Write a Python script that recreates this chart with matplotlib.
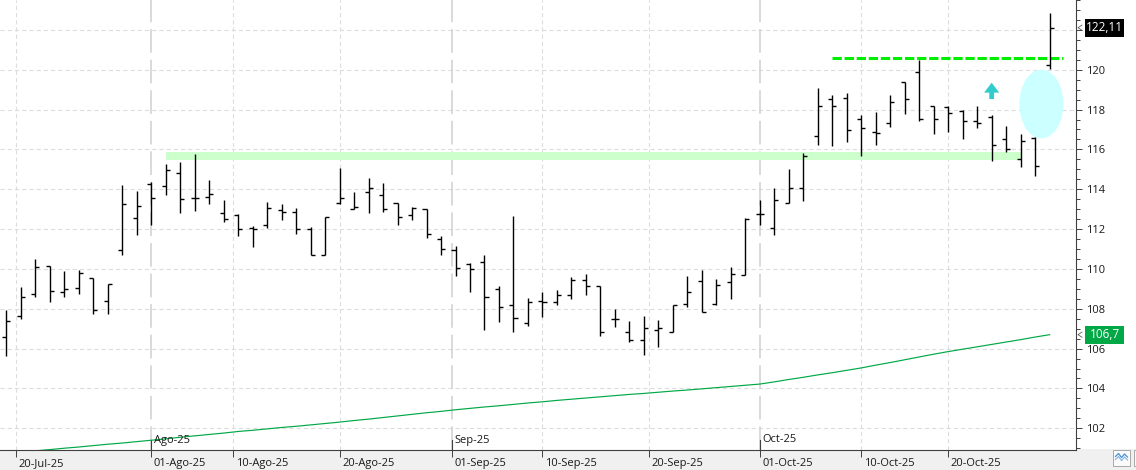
import numpy as np
import pandas as pd
import matplotlib
matplotlib.use("Agg")
import matplotlib.pyplot as plt
from matplotlib.patches import Ellipse, Rectangle, Polygon
from matplotlib.lines import Line2D
from matplotlib.ticker import MultipleLocator, FixedLocator
import matplotlib.transforms as mtrans

plt.rcParams['font.family'] = ['Open Sans', 'DejaVu Sans']
plt.rcParams['lines.scale_dashes'] = False

# ---------------- data ----------------
trade_dates = [d for d in pd.bdate_range('2025-07-18', '2025-10-29') if d != pd.Timestamp('2025-09-01')]

opens = [106.6, 107.65, 108.75, 110.13, 108.85, 109.05, 109.53, 108.4, 110.95, 112.55,
         114.25, 114.17, 114.8, 113.55, 113.62, 112.8, 112.73, 112.05, 112.2, 112.98,
         112.87, 112.0, 110.7, 113.3, 113.0, 113.85, 113.7, 113.3, 112.72, 113.0,
         111.5, 110.95, 110.25, 110.35, 109.0, 108.2, 107.3, 108.4, 108.35, 108.7,
         109.45, 109.12, 107.48, 106.82, 106.43, 106.95, 106.82, 108.25, 109.4, 108.25,
         109.35, 109.72, 112.78, 112.07, 113.3, 114.05, 116.65, 118.53, 118.6, 117.55,
         116.87, 117.35, 119.4, 119.9, 118.18, 118.15, 117.93, 117.45, 117.65, 116.5,
         115.53, 116.58, 120.22]
highs = [107.92, 109.07, 110.5, 110.13, 109.92, 109.97, 109.55, 109.23, 114.22, 113.92,
         114.37, 115.27, 115.37, 115.75, 114.47, 113.47, 112.77, 112.15, 113.37, 113.25,
         113.05, 112.1, 112.62, 115.08, 113.85, 114.55, 114.3, 113.3, 113.13, 113.0,
         111.65, 111.15, 110.3, 110.7, 109.15, 112.65, 108.55, 108.83, 108.92, 109.58,
         109.75, 109.12, 107.97, 107.37, 107.65, 107.42, 108.17, 109.62, 109.95, 109.5,
         110.12, 112.57, 113.47, 114.07, 115.03, 115.8, 119.1, 118.72, 118.85, 117.75,
         117.87, 118.72, 119.4, 120.5, 118.18, 118.18, 117.97, 118.2, 117.75, 117.17,
         116.75, 116.63, 122.83]
lows = [105.62, 107.48, 108.58, 108.33, 108.58, 108.73, 107.73, 107.73, 110.68, 111.68,
        112.18, 113.7, 112.83, 112.93, 113.28, 112.38, 111.63, 111.1, 112.03, 112.48,
        111.73, 110.7, 110.7, 113.25, 113.0, 112.8, 112.85, 112.2, 112.45, 111.55,
        110.7, 109.65, 108.85, 106.95, 107.35, 106.85, 107.15, 107.58, 108.17, 108.5,
        108.7, 106.65, 107.1, 106.32, 105.7, 106.08, 106.82, 108.08, 107.82, 108.17,
        108.5, 109.67, 112.23, 111.68, 113.3, 113.43, 116.23, 116.17, 116.38, 115.67,
        116.23, 117.13, 117.78, 117.45, 116.78, 116.88, 116.53, 117.08, 115.43, 115.88,
        115.13, 114.68, 120.03]
closes = [107.4, 108.57, 110.1, 108.9, 108.97, 109.8, 107.95, 109.22, 113.27, 113.17,
          113.55, 114.95, 113.5, 113.55, 113.75, 112.5, 112.0, 112.0, 113.05, 112.87,
          112.0, 110.7, 112.62, 113.55, 113.1, 114.05, 113.0, 112.6, 113.05, 111.75,
          111.0, 110.05, 110.0, 108.6, 108.1, 107.55, 108.35, 108.35, 108.7, 109.45,
          109.13, 106.82, 107.48, 106.43, 107.05, 107.05, 108.17, 108.85, 107.85, 109.18,
          109.75, 112.52, 112.78, 113.47, 114.05, 115.65, 118.2, 118.2, 116.95, 117.05,
          116.8, 118.4, 118.55, 117.55, 117.55, 117.85, 117.45, 117.32, 116.2, 116.0,
          116.42, 115.15, 122.11]
moving_avg = [100.74, 100.80, 100.87, 100.93, 101.00, 101.06, 101.13, 101.20, 101.26, 101.33,
              101.40, 101.47, 101.55, 101.62, 101.69, 101.76, 101.84, 101.90, 101.97, 102.04,
              102.10, 102.17, 102.24, 102.31, 102.39, 102.46, 102.54, 102.62, 102.70, 102.78,
              102.85, 102.93, 103.00, 103.07, 103.13, 103.20, 103.27, 103.33, 103.40, 103.46,
              103.52, 103.58, 103.64, 103.70, 103.75, 103.81, 103.87, 103.92, 103.98, 104.04,
              104.10, 104.16, 104.22, 104.33, 104.45, 104.56, 104.68, 104.79, 104.91, 105.03,
              105.17, 105.30, 105.44, 105.58, 105.72, 105.85, 105.97, 106.09, 106.21, 106.33,
              106.45, 106.58, 106.70]

tick_dates = ['2025-07-20', '2025-08-01', '2025-08-10', '2025-08-20', '2025-09-01',
              '2025-09-10', '2025-09-20', '2025-10-01', '2025-10-10', '2025-10-20']
tick_labels = ['20-Jul-25', '01-Ago-25', '10-Ago-25', '20-Ago-25', '01-Sep-25',
               '10-Sep-25', '20-Sep-25', '01-Oct-25', '10-Oct-25', '20-Oct-25']
month_dates = ['2025-08-01', '2025-09-01', '2025-10-01']
month_labels = ['Ago-25', 'Sep-25', 'Oct-25']
y_ticks = [102, 104, 106, 108, 110, 112, 114, 116, 118, 120, 122]

support_level = (115.48, 115.88)
resistance_level = 120.6
last_price = 122.11
ma_last = 106.7

# ---------------- figure ----------------
W, H = 1136, 470
fig = plt.figure(figsize=(W / 100, H / 100), dpi=100)
fig.patch.set_facecolor('white')

def fx(x):
    return x / W

def fy(y):
    return 1 - y / H

# bottom grey band
fig.add_artist(Rectangle((0, 0), 1, fy(449), transform=fig.transFigure,
                         facecolor='#f0f0f0', edgecolor='none', zorder=0))

ax = fig.add_axes([0, fy(450), fx(1076), 450 / H])
ax.set_facecolor('white')

idx = np.arange(len(opens))
date_ord = np.array([d.toordinal() for d in trade_dates])

def pos_of(ds):
    return float(np.interp(pd.Timestamp(ds).toordinal(), date_ord, idx))

ax.set_xlim(-0.435, 73.82)
ax.set_ylim(100.91, 123.5)
px_y = (123.5 - 100.91) / 450.0  # data units per pixel

# grid lines
grid_kw = dict(color='#dcdcdc', lw=0.8, dashes=(3, 2.2), zorder=1)
for v in y_ticks:
    ax.axhline(v, **grid_kw)
tick_pos = [pos_of(d) for d in tick_dates]
month_pos = [pos_of(d) for d in month_dates]
for p in tick_pos:
    if min(abs(p - m) for m in month_pos) > 0.01:
        ax.axvline(p, **grid_kw)
for p in month_pos:
    ax.axvline(p, color='#cfcfcf', lw=1.1, dashes=(17, 5), zorder=1)
    ax.axvline(p, ymin=0, ymax=10 / 450, color='#404040', lw=0.8, zorder=2)

# support band
ax.add_patch(Rectangle((11, support_level[0]), 59, support_level[1] - support_level[0],
                       facecolor='#ccffcc', edgecolor='none', zorder=1.5))

# ellipse
ax.add_patch(Ellipse((71.43, 118.28), 3.04, 3.45, facecolor='#ccffff',
                     edgecolor='none', zorder=1.6))

# resistance dashed line
ax.plot([57, 72.9], [resistance_level, resistance_level], color='#00ee00', lw=2.2,
        dashes=(6.7, 2.0), zorder=3, solid_capstyle='butt', dash_capstyle='butt')

# cyan arrow
ax.add_patch(Polygon([(68.0, 119.35), (68.52, 118.85), (68.165, 118.85), (68.165, 118.53),
                      (67.835, 118.53), (67.835, 118.85), (67.48, 118.85)],
                     closed=True, facecolor='#33cccc', edgecolor='none', zorder=3))

# moving average
ax.plot(idx, moving_avg, color='#00a846', lw=0.85, zorder=2.5)

# OHLC bars
tw = 0.28
ax.vlines(idx, lows, highs, color='black', lw=1.0, zorder=4)
ax.hlines(opens, idx - tw, idx, color='black', lw=1.0, zorder=4)
ax.hlines(closes, idx, idx + tw, color='black', lw=1.0, zorder=4)

# spines
for s in ['top', 'left']:
    ax.spines[s].set_visible(False)
ax.spines['right'].set_color('#404040')
ax.spines['bottom'].set_color('#404040')
ax.spines['right'].set_linewidth(0.8)
ax.spines['bottom'].set_linewidth(0.8)

# y axis on right (122 label is hidden behind the last-price box in the reference)
ax.yaxis.tick_right()
ax.yaxis.set_major_locator(FixedLocator(y_ticks))
ax.yaxis.set_minor_locator(MultipleLocator(0.5))
ax.tick_params(axis='y', which='major', length=4.3, width=0.7, color='#404040',
               labelsize=8, labelcolor='#1a1a1a', pad=3)
ax.tick_params(axis='y', which='minor', length=3.0, width=0.7, color='#404040')
ax.set_yticklabels(['' if v == 122 else str(v) for v in y_ticks])

# x axis ticks
ax.set_xticks(tick_pos)
ax.set_xticklabels([])
ax.tick_params(axis='x', which='major', length=5, width=0.7, color='#404040', direction='out')

off = mtrans.ScaledTranslation(2.5 / 100, 0, fig.dpi_scale_trans)
btrans = mtrans.blended_transform_factory(ax.transData, ax.transAxes)
for p, lab in zip(tick_pos, tick_labels):
    ax.text(p, -13.5 / 450, lab, transform=btrans + off, ha='left', va='center',
            fontsize=8, color='#1a1a1a', clip_on=False)
for p, lab in zip(month_pos, month_labels):
    ax.text(p, 10 / 450, lab, transform=btrans + off, ha='left', va='center',
            fontsize=8, color='#1a1a1a', zorder=5)

# price boxes
rtrans = mtrans.blended_transform_factory(ax.transAxes, ax.transData)
for val, txt, col in [(last_price, '122,11', 'black'), (ma_last, '106,7', '#00a846')]:
    ax.add_patch(Rectangle((1085 / 1076, val - 9 * px_y), 39 / 1076, 18 * px_y,
                           transform=rtrans, facecolor=col, edgecolor='none',
                           clip_on=False, zorder=10))
    ax.text(1104.5 / 1076, val, txt, transform=rtrans, ha='center', va='center',
            fontsize=8.5, color='white', clip_on=False, zorder=11)
    ax.plot([1082 / 1076, 1078 / 1076, 1082 / 1076], [val + 0.13, val, val - 0.13],
            transform=rtrans, color='#606060', lw=0.6, clip_on=False, zorder=10)

# small icon bottom right
fig.add_artist(Rectangle((fx(1113), fy(466)), fx(17), 16 / H, transform=fig.transFigure,
                         facecolor='#fbfbfb', edgecolor='#a8a8a8', lw=0.7, zorder=5))
fig.add_artist(Rectangle((fx(1133.5), fy(466)), fx(5), 16 / H, transform=fig.transFigure,
                         facecolor='#fbfbfb', edgecolor='#a8a8a8', lw=0.7, zorder=5))
zx = [1115.5, 1118.5, 1121.5, 1124.5, 1127.5]
zy1 = [456.5, 453.5, 457.5, 454, 457]
zy2 = [459.5, 456.5, 460.5, 457, 460]
fig.add_artist(Line2D([fx(v) for v in zx], [fy(v) for v in zy1], transform=fig.transFigure,
                      color='#4a90d9', lw=0.9, zorder=6))
fig.add_artist(Line2D([fx(v) for v in zx], [fy(v) for v in zy2], transform=fig.transFigure,
                      color='#8ab8e6', lw=0.9, zorder=6))

fig.savefig('out.png', dpi=100, facecolor='white')
